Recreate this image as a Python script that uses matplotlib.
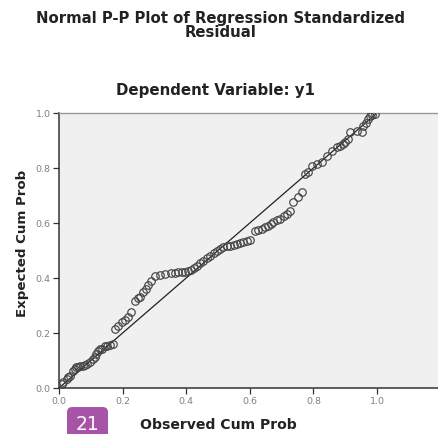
"""Normal P-P plot of regression standardized residual (SPSS style)."""
import matplotlib.pyplot as plt
from matplotlib.patches import FancyBboxPatch

TITLE = "Normal P-P Plot of Regression Standardized\nResidual"
SUBTITLE = "Dependent Variable: y1"
X_LABEL = "Observed Cum Prob"
Y_LABEL = "Expected Cum Prob"
TICKS = [0.0, 0.2, 0.4, 0.6, 0.8, 1.0]
TICK_LABELS = ["0.0", "0.2", "0.4", "0.6", "0.8", "1.0"]

# points
observed = [
    0.009, 0.013, 0.025, 0.028, 0.035, 0.044, 0.050, 0.053, 0.060, 0.066,
    0.075, 0.082, 0.088, 0.097, 0.107, 0.113, 0.116, 0.123, 0.129, 0.135,
    0.145, 0.151, 0.160, 0.170,
    0.176, 0.186, 0.198, 0.208, 0.217, 0.226,
    0.239, 0.248, 0.255, 0.264, 0.274, 0.280, 0.289, 0.302, 0.318, 0.333,
    0.352, 0.365, 0.374, 0.387, 0.396, 0.406, 0.415, 0.425, 0.434, 0.443,
    0.453, 0.465, 0.475, 0.487, 0.497, 0.506, 0.516, 0.528, 0.538, 0.550,
    0.560, 0.569, 0.579, 0.591, 0.601,
    0.616, 0.626, 0.638, 0.648, 0.657, 0.667, 0.673, 0.686, 0.695, 0.708,
    0.717, 0.726, 0.736, 0.752, 0.764,
    0.774, 0.783, 0.796, 0.811, 0.827, 0.843, 0.858, 0.874, 0.884, 0.893,
    0.899, 0.909, 0.915, 0.937, 0.953, 0.956, 0.965, 0.972, 0.978, 0.984,
    0.994,
]
expected = [
    0.015, 0.022, 0.033, 0.040, 0.044, 0.062, 0.069, 0.076, 0.076, 0.080,
    0.080, 0.084, 0.087, 0.095, 0.105, 0.113, 0.124, 0.135, 0.142, 0.142,
    0.153, 0.153, 0.156, 0.160,
    0.215, 0.225, 0.240, 0.247, 0.258, 0.276,
    0.316, 0.327, 0.331, 0.349, 0.360, 0.375, 0.389, 0.407, 0.411, 0.415,
    0.418, 0.418, 0.422, 0.422, 0.422, 0.425, 0.429, 0.436, 0.444, 0.455,
    0.462, 0.473, 0.480, 0.491, 0.498, 0.505, 0.513, 0.516, 0.516, 0.520,
    0.524, 0.527, 0.531, 0.535, 0.538,
    0.571, 0.575, 0.578, 0.585, 0.589, 0.596, 0.604, 0.611, 0.615, 0.625,
    0.633, 0.644, 0.676, 0.695, 0.713,
    0.778, 0.785, 0.807, 0.815, 0.822, 0.844, 0.862, 0.876, 0.880, 0.887,
    0.895, 0.905, 0.931, 0.935, 0.931, 0.953, 0.964, 0.978, 0.989, 0.993,
    0.996,
]

plt.rcParams["font.family"] = ["DejaVu Sans"]

fig = plt.figure(figsize=(4.38, 4.35), dpi=100)
ax = fig.add_axes([59 / 438, 46 / 435, 379 / 438, 275 / 435])
ax.set_facecolor("#f0f0f0")
ax.set_xlim(0, 379 / 318)
ax.set_ylim(0, 1.0)

ax.plot([0, 1], [0, 1], color="#222222", lw=0.9, zorder=2)
ax.plot(observed, expected, ls="none", marker="o", ms=5.4, mfc="none",
        mec="#444444", mew=0.85, zorder=3)

ax.set_xticks(TICKS)
ax.set_xticklabels(TICK_LABELS)
ax.set_yticks(TICKS)
ax.set_yticklabels(TICK_LABELS)
ax.tick_params(direction="out", length=4.5, width=0.9, color="#333333",
               labelsize=6.8, labelcolor="#808080", pad=1.5)

for side in ["left", "bottom"]:
    ax.spines[side].set_color("#333333")
    ax.spines[side].set_linewidth(1.1)
ax.spines["top"].set_color("#999999")
ax.spines["top"].set_linewidth(1.0)
ax.spines["right"].set_visible(False)

fig.text(0.503, 0.941, TITLE, ha="center", va="center", fontsize=10.7,
         fontweight="bold", color="#222222", linespacing=0.95)
fig.text(0.493, 0.793, SUBTITLE, ha="center", va="center", fontsize=10.8,
         fontweight="bold", color="#222222")
fig.text(0.498, 0.024, X_LABEL, ha="center", va="center", fontsize=10.1,
         fontweight="bold", color="#222222")
fig.text(0.052, 0.44, Y_LABEL, ha="center", va="center", fontsize=9.6,
         fontweight="bold", color="#222222", rotation=90)

# page number badge in the corner of the source image
badge = FancyBboxPatch((67 / 438, -0.02), 41 / 438, 0.082,
                       boxstyle="round,pad=0,rounding_size=0.012",
                       transform=fig.transFigure, facecolor="#a754a8",
                       edgecolor="none")
fig.patches.append(badge)
fig.text(87.5 / 438, 0.024, "21", ha="center", va="center", fontsize=13.5,
         color="white")

fig.savefig("out.png", dpi=100)
